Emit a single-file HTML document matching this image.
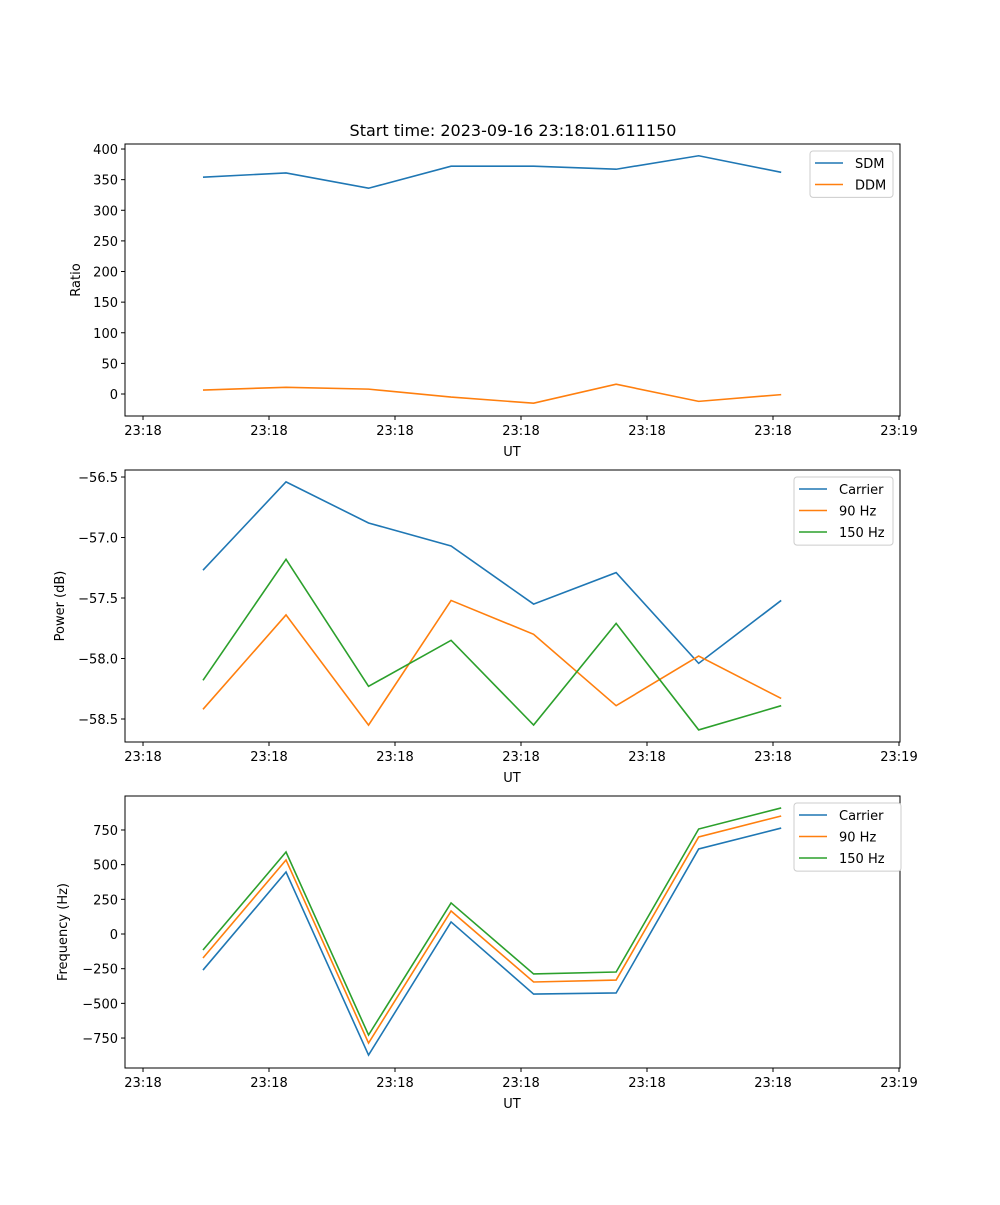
<!DOCTYPE html>
<html><head><meta charset="utf-8"><style>
html,body{margin:0;padding:0;background:#fff;}
svg text{font-family:"DejaVu Sans","Liberation Sans",sans-serif;fill:#000;}
</style></head><body>
<svg id="fig" width="1000" height="1200" xmlns="http://www.w3.org/2000/svg">
<rect width="1000" height="1200" fill="#fff"/>
<text x="513" y="136" font-size="16" text-anchor="middle">Start time: 2023-09-16 23:18:01.611150</text>
</svg>
<script>
const times = [4.76, 11.35, 17.9, 24.45, 31.0, 37.55, 44.1, 50.65];
const xTicks = [0, 10, 20, 30, 40, 50, 60];
const xTickLabels = ["23:18","23:18","23:18","23:18","23:18","23:18","23:19"];
const sdm = [354, 361, 336, 372, 372, 367, 389, 362];
const ddm = [6.5, 11, 8, -5, -15, 16, -12, -1];
const powCarrier = [-57.27, -56.54, -56.88, -57.07, -57.55, -57.29, -58.04, -57.52];
const pow90 = [-58.42, -57.64, -58.55, -57.52, -57.80, -58.39, -57.98, -58.33];
const pow150 = [-58.18, -57.18, -58.23, -57.85, -58.55, -57.71, -58.59, -58.39];
const freqCarrier = [-260, 447, -873, 87, -433, -425, 613, 764];
const freq90 = [-173, 534, -786, 166, -346, -332, 700, 851];
const freq150 = [-115, 591, -728, 224, -288, -274, 757, 909];
const ticks1 = [0, 50, 100, 150, 200, 250, 300, 350, 400];
const ticks2 = [-58.5, -58.0, -57.5, -57.0, -56.5];
const ticks3 = [-750, -500, -250, 0, 250, 500, 750];
const C = ["#1f77b4", "#ff7f0e", "#2ca02c"];
const NS = "http://www.w3.org/2000/svg";
const svg = document.getElementById("fig");
function mk(tag, attrs, parent) {
  const e = document.createElementNS(NS, tag);
  for (const k in attrs) e.setAttribute(k, attrs[k]);
  (parent || svg).appendChild(e);
  return e;
}
const X0 = 125, X1 = 900, xmin = -1.43, xmax = 60.08;
function xs(t) { return X0 + (t - xmin) / (xmax - xmin) * (X1 - X0); }

function panel(name, top, ymin, ymax, yticks, fmt, ylabel, ylabX, series, legend) {
  const bot = top + 272;
  const ys = v => bot - (v - ymin) / (ymax - ymin) * 272;
  const g = mk("g", {});
  
  
  series.forEach((s, i) => {
    const p = mk("polyline", { points: s.vals.map((v, j) => xs(times[j]) + "," + ys(v)).join(" "), fill: "none", stroke: C[i], "stroke-width": 1.6 }, g);
    
    
  });
  const fr = mk("rect", { x: X0, y: top, width: X1 - X0, height: 272, fill: "none", stroke: "#000", "stroke-width": 1 }, g);
  
  
  xTicks.forEach((t, i) => {
    const x = xs(t);
    mk("line", { x1: x, x2: x, y1: bot, y2: bot + 4, stroke: "#000" }, g);
    const tx = mk("text", { x: x, y: bot + 19, "font-size": 13, "text-anchor": "middle" }, g);
    tx.textContent = xTickLabels[i];
    
    
  });
  const xl = mk("text", { x: 512, y: bot + 40, "font-size": 13, "text-anchor": "middle" }, g);
  xl.textContent = "UT";
  
  
  yticks.forEach(v => {
    const y = ys(v);
    mk("line", { x1: X0 - 4, x2: X0, y1: y, y2: y, stroke: "#000" }, g);
    const tx = mk("text", { x: X0 - 7, y: y + 5, "font-size": 13, "text-anchor": "end" }, g);
    tx.textContent = fmt(v);
    
    
  });
  const yl = mk("text", { x: ylabX, y: top + 136, "font-size": 13, "text-anchor": "middle", transform: "rotate(-90 " + ylabX + " " + (top + 136) + ")" }, g);
  yl.textContent = ylabel;
  
  
  const lg = mk("g", {}, g);
  
  
  mk("rect", { x: legend.x, y: top + 7, width: legend.w, height: 3 + series.length * 21.7, rx: 3, fill: "#fff", stroke: "#ccc" }, lg);
  series.forEach((s, i) => {
    const y = top + 19 + i * 21.5;
    mk("line", { x1: legend.x + 5, x2: legend.x + 33, y1: y, y2: y, stroke: C[i], "stroke-width": 1.6 }, lg);
    const t = mk("text", { x: legend.x + 45, y: y + 5, "font-size": 13 }, lg);
    t.textContent = s.label;
    
    
  });
}
panel("ratio", 144, -35.9, 408.2, ticks1, v => String(v), "Ratio", 80,
  [{ key: "sdm", label: "SDM", vals: sdm }, { key: "ddm", label: "DDM", vals: ddm }], { x: 810, w: 83 });
panel("power", 470, -58.69, -56.442, ticks2, v => "\u2212" + Math.abs(v).toFixed(1), "Power (dB)", 64,
  [{ key: "carrier", label: "Carrier", vals: powCarrier }, { key: "90hz", label: "90 Hz", vals: pow90 }, { key: "150hz", label: "150 Hz", vals: pow150 }], { x: 794, w: 99 });
panel("frequency", 796, -966, 995, ticks3, v => (v < 0 ? "\u2212" : "") + Math.abs(v), "Frequency (Hz)", 67,
  [{ key: "carrier", label: "Carrier", vals: freqCarrier }, { key: "90hz", label: "90 Hz", vals: freq90 }, { key: "150hz", label: "150 Hz", vals: freq150 }], { x: 794, w: 107 });
</script>
</body></html>
